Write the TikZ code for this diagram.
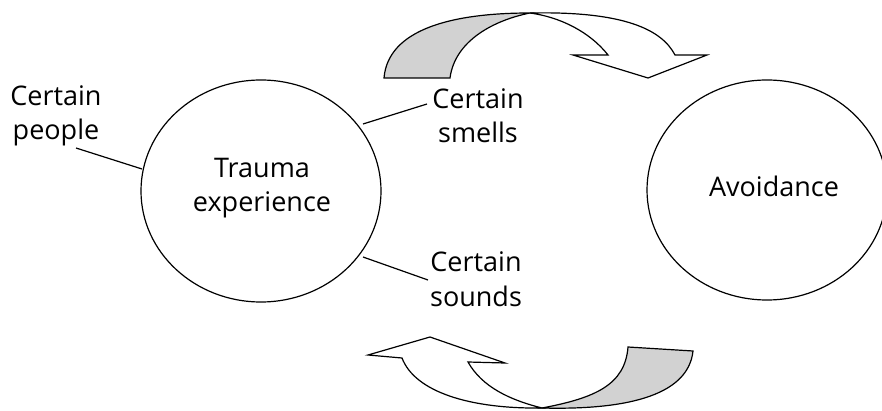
\documentclass[tikz,border=0pt]{standalone}
\usepackage{fontspec}
\setmainfont{Open Sans}
\begin{document}
\begin{tikzpicture}[x=1pt,y=-1pt,
  lbl/.style={font=\fontsize{27}{34.5}\selectfont, align=center, inner sep=0pt, anchor=base},
  link/.style={line width=1.2pt},
  bubble/.style={line width=1.2pt},
  ribbon/.style={draw, line width=1.2pt, line join=miter},
  backside/.style={ribbon, fill=gray!35},
  frontside/.style={ribbon, fill=white}]
\useasboundingbox (0,0) rectangle (882,411);
\clip (0,0) rectangle (882,411);

% ellipses
\draw[bubble] (261,191) ellipse [x radius=120, y radius=111];
\node[inner sep=0pt] (trauma) at (261,191) {};
\node[lbl] (traumatxt) at (262,212) {Trauma\\experience};
\draw[bubble] (767,190) ellipse [x radius=120, y radius=110];
\node[inner sep=0pt] (avoid) at (767,190) {};
\node[lbl] (avoidtxt) at (774,197) {Avoidance};

% labels
\node[lbl] (people) at (56,140) {Certain\\people};
\node[lbl] (smells) at (478,143) {Certain\\smells};
\node[lbl] (sounds) at (476,306) {Certain\\sounds};

% connector ends
\coordinate (pa) at (76,148);
\coordinate (pb) at (142,169);
\coordinate (sa) at (427,104);
\coordinate (sb) at (363,124);
\coordinate (oa) at (363,257);
\coordinate (ob) at (428,280);
\draw[link] (pa) -- (pb);
\draw[link] (sa) -- (sb);
\draw[link] (oa) -- (ob);

% top twisted arrow
\coordinate (tc) at (530,13);
\draw[backside] (384,78) .. controls (388,30) and (450,13) .. (tc)
  .. controls (495,20) and (455,40) .. (450,78) -- cycle;
\draw[frontside] (tc) .. controls (625,11) and (662,30) .. (675,55)
  -- (707,55) -- (648,78) -- (573,55) -- (608,55)
  .. controls (590,32) and (560,17) .. (tc) -- cycle;

% bottom twisted arrow
\coordinate (bc) at (542,408);
\draw[backside] (693,351) .. controls (688,398) and (620,410) .. (bc)
  .. controls (595,398) and (625,385) .. (628,347) -- cycle;
\draw[frontside] (bc) .. controls (470,409) and (415,392) .. (402,358)
  -- (368,355) -- (430,337) -- (505,363) -- (468,362)
  .. controls (482,387) and (510,400) .. (bc) -- cycle;
\end{tikzpicture}
\end{document}
